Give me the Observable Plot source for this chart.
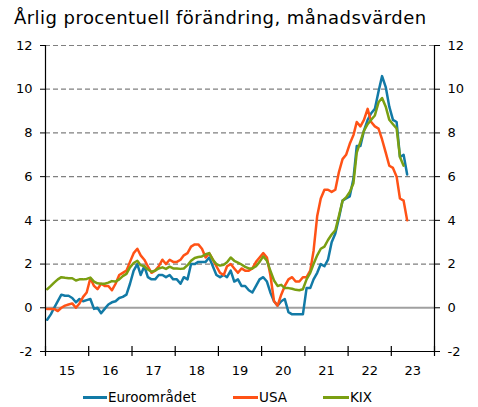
<!DOCTYPE html>
<html><head><meta charset="utf-8">
<script src="https://cdn.jsdelivr.net/npm/d3@7"></script>
<script src="https://cdn.jsdelivr.net/npm/@observablehq/plot@0.6"></script>
<style>
body{margin:0;background:#fff;font-family:"DejaVu Sans",Verdana,sans-serif;}
#wrap{position:relative;width:478px;height:407px;overflow:hidden;}
#title{position:absolute;left:14px;top:9px;font-size:18px;line-height:18px;letter-spacing:0.45px;color:#000;white-space:nowrap;}
#chart{position:absolute;left:0;top:35px;}
#legend{position:absolute;left:0;top:386px;width:478px;height:22px;font-size:13.5px;color:#000;}
.item{position:absolute;top:0;height:22px;display:flex;align-items:center;white-space:nowrap;}
.sw{display:inline-block;width:24px;height:3px;margin-right:1px;}
</style></head><body>
<div id="wrap">
<div id="title">Årlig procentuell förändring, månadsvärden</div>
<div id="chart"></div>
<div id="legend"></div>
</div>
<script>
// ---- data (monthly, starting January 2015) ----
const startYear = 2015;
const seriesNames = ["Euroområdet", "USA", "KIX"];
const seriesColors = ["#127aa6", "#ff5216", "#7a9f12"];

const euro = [
  -0.55, -0.3, 0.0, 0.3, 0.6, 0.55, 0.55, 0.45, 0.25, 0.4, 0.3, 0.35,
  0.4, -0.05, 0.0, -0.25, -0.05, 0.15, 0.25, 0.3, 0.45, 0.5, 0.6, 1.1,
  1.7, 2.0, 1.5, 1.9, 1.4, 1.3, 1.3, 1.5, 1.5, 1.4, 1.5, 1.3,
  1.3, 1.1, 1.4, 1.3, 2.0, 2.0, 2.1, 2.1, 2.1, 2.3, 1.9, 1.5,
  1.4, 1.5, 1.4, 1.7, 1.2, 1.3, 1.0, 1.0, 0.8, 0.7, 1.0, 1.3,
  1.4, 1.2, 0.7, 0.3, 0.1, 0.3, 0.4, -0.2, -0.3, -0.3, -0.3, -0.3,
  0.9, 0.9, 1.3, 1.6, 2.0, 1.9, 2.2, 3.0, 3.4, 4.1, 4.9, 5.0,
  5.1, 5.9, 7.4, 7.4, 8.1, 8.6, 8.9, 9.1, 9.9, 10.6, 10.1, 9.2,
  8.6, 8.5, 6.9, 7.0, 6.1
];
const usa = [
  -0.05, -0.05, -0.05, -0.15, 0.0, 0.1, 0.15, 0.2, 0.0, 0.2, 0.5, 0.7,
  1.35, 1.0, 0.85, 1.1, 1.0, 1.0, 0.8, 1.1, 1.5, 1.6, 1.7, 2.1,
  2.5, 2.7, 2.4, 2.2, 1.9, 1.6, 1.7, 1.9, 2.2, 2.0, 2.2, 2.1,
  2.1, 2.2, 2.4, 2.5, 2.8, 2.9, 2.9, 2.7, 2.3, 2.5, 2.2, 1.9,
  1.6, 1.5, 1.9, 2.0, 1.8, 1.6, 1.8, 1.7, 1.7, 1.8, 2.1, 2.3,
  2.5, 2.3, 1.5, 0.3, 0.1, 0.6, 1.0, 1.3, 1.4, 1.2, 1.2, 1.4,
  1.4, 1.7, 2.6, 4.2, 5.0, 5.4, 5.4, 5.3, 5.4, 6.2, 6.8, 7.0,
  7.5, 7.9, 8.5, 8.3, 8.6, 9.1, 8.5, 8.3, 8.2, 7.7, 7.1, 6.5,
  6.4, 6.0, 5.0, 4.9, 4.0
];
const kix = [
  0.85, 1.0, 1.15, 1.3, 1.4, 1.37, 1.35, 1.35, 1.25, 1.3, 1.3, 1.32,
  1.38, 1.2, 1.12, 1.1, 1.1, 1.15, 1.22, 1.2, 1.3, 1.45, 1.55, 1.85,
  2.05, 2.15, 1.95, 1.9, 1.75, 1.65, 1.7, 1.8, 1.85, 1.78, 1.88, 1.8,
  1.8, 1.78, 1.8, 1.95, 2.15, 2.28, 2.32, 2.35, 2.45, 2.5, 2.2, 2.0,
  1.93, 1.97, 2.08, 2.3, 2.15, 2.07, 1.98, 1.87, 1.8, 1.8, 1.9, 2.1,
  2.35, 2.15, 1.7, 1.25, 1.0, 1.05, 0.9, 0.9, 0.87, 0.82, 0.8, 0.85,
  1.3, 1.6, 2.0, 2.4, 2.7, 2.8, 3.1, 3.35, 3.55, 4.2, 4.9, 5.05,
  5.3, 5.7, 7.1, 7.6, 8.1, 8.4, 8.6, 8.8, 9.4, 9.6, 9.2, 8.6,
  8.4, 8.2, 6.9, 6.5
];
const yTicks = [-2, 0, 2, 4, 6, 8, 10, 12];
const yearTicks = [2015, 2016, 2017, 2018, 2019, 2020, 2021, 2022, 2023, 2024];
const yearLabels = ["15", "16", "17", "18", "19", "20", "21", "22", "23"];

// ---- build table ----
const allSeries = [euro, usa, kix];
const rows = [];
allSeries.forEach((vals, s) => vals.forEach((v, i) =>
  rows.push({date: new Date(Date.UTC(startYear, i, 15)), value: v, series: seriesNames[s]})));
const yearDates = yearTicks.map(y => new Date(Date.UTC(y, 0, 1)));
const labelRows = yearLabels.map((l, i) => ({date: new Date(Date.UTC(yearTicks[i], 6, 2)), label: l}));

const chart = Plot.plot({
  width: 478, height: 345,
  marginLeft: 45, marginRight: 44, marginTop: 10, marginBottom: 29,
  style: {fontFamily: "'DejaVu Sans', Verdana, sans-serif", fontSize: "13px", color: "#000", background: "#fff"},
  x: {type: "utc", domain: [yearDates[0], yearDates[yearDates.length - 1]], axis: null},
  y: {domain: [-2, 12], axis: null},
  color: {domain: seriesNames, range: seriesColors},
  marks: [
    Plot.ruleY(yTicks.filter(t => t > 0), {stroke: "#808080", strokeDasharray: "5,3", strokeWidth: 1.2}),
    Plot.ruleY([0], {stroke: "#a0a0a0", strokeWidth: 2}),
    Plot.line(rows, {x: "date", y: "value", z: "series", stroke: "series", strokeWidth: 2.5, strokeLinejoin: "round"}),
    Plot.ruleX([yearDates[0], yearDates[yearDates.length - 1]], {stroke: "#000", strokeWidth: 1.2}),
    Plot.ruleY([-2], {stroke: "#000", strokeWidth: 1.2}),
    Plot.ruleX(yearDates, {y1: -2, y2: -2, insetTop: -5, insetBottom: -5, stroke: "#000", strokeWidth: 1.2}),
    Plot.axisY({anchor: "left", ticks: yTicks, tickSize: 5, tickPadding: 8, label: null, stroke: "#000", tickFormat: d => String(d)}),
    Plot.axisY({anchor: "right", ticks: yTicks, tickSize: 5, tickPadding: 8, label: null, stroke: "#000", tickFormat: d => String(d)}),
    Plot.text(labelRows, {x: "date", y: -2, dy: 19, text: "label", fontSize: 13, fill: "#000"})
  ]
});
document.getElementById("chart").appendChild(chart);

// ---- legend ----
const legendPos = [[83, 107], [233, 258], [323, 349]];
const legend = document.getElementById("legend");
seriesNames.forEach((n, i) => {
  const it = document.createElement("div");
  it.className = "item";
  it.style.left = legendPos[i][0] + "px";
  const sw = document.createElement("span");
  sw.className = "sw";
  sw.style.background = seriesColors[i];
  sw.style.width = (legendPos[i][1] - legendPos[i][0]) + "px";
  it.appendChild(sw);
  it.appendChild(document.createTextNode(n));
  legend.appendChild(it);
});
</script>
</body></html>
